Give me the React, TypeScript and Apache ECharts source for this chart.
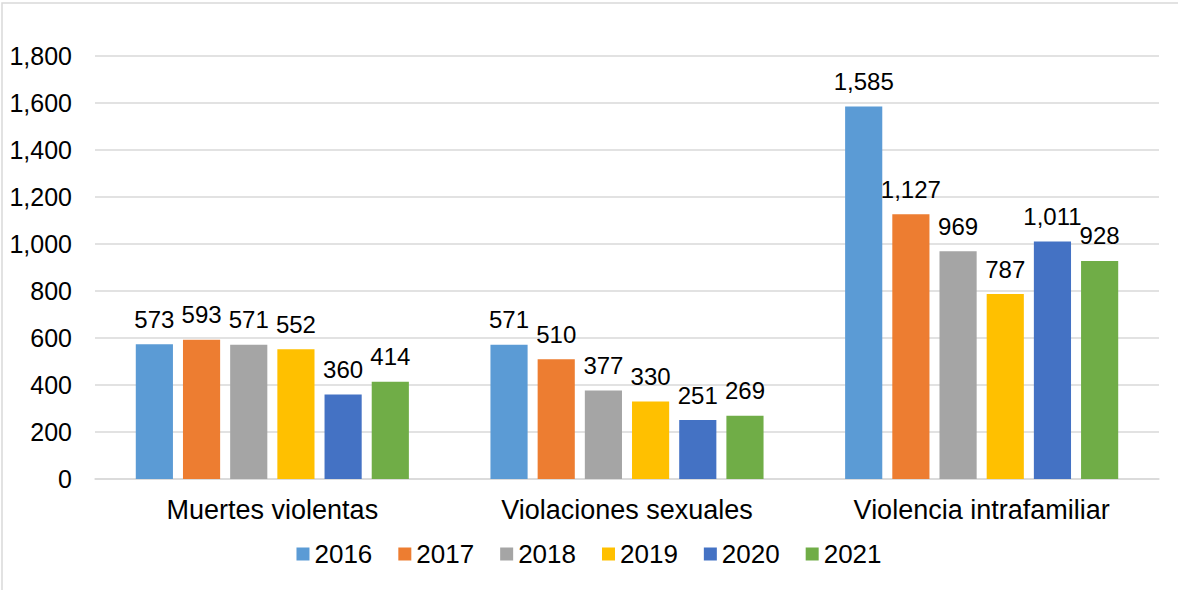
import React, { useEffect, useRef } from "react";
import * as echarts from "echarts";

const categories = ["Muertes violentas", "Violaciones sexuales", "Violencia intrafamiliar"];
const years = ["2016", "2017", "2018", "2019", "2020", "2021"];
const v2016 = [573, 571, 1585];
const v2017 = [593, 510, 1127];
const v2018 = [571, 377, 969];
const v2019 = [552, 330, 787];
const v2020 = [360, 251, 1011];
const v2021 = [414, 269, 928];
const colors = ["#5B9BD5", "#ED7D31", "#A5A5A5", "#FFC000", "#4472C4", "#70AD47"];

const fmt = (n: number) => n.toLocaleString("en-US");
const FONT = "Liberation Sans, Arial, sans-serif";

export default function App() {
  const ref = useRef<HTMLDivElement>(null);
  useEffect(() => {
    if (!ref.current) return;
    const chart = echarts.init(ref.current, undefined, { renderer: "svg" });
    const all = [v2016, v2017, v2018, v2019, v2020, v2021];
    chart.setOption({
      animation: false,
      backgroundColor: "#fff",
      graphic: [
        {
          type: "rect",
          shape: { x: 2, y: 3, width: 1190, height: 600 },
          style: { fill: "none", stroke: "#D9D9D9", lineWidth: 1.5 },
          silent: true,
        },
      ],
      grid: { left: 95, right: 19, top: 56, bottom: 111 },
      legend: {
        top: 536,
        left: "center",
        itemWidth: 13,
        itemHeight: 13,
        itemGap: 26,
        icon: "rect",
        textStyle: { fontFamily: FONT, fontSize: 26, color: "#000" },
        data: years,
      },
      xAxis: {
        type: "category",
        data: categories,
        axisLine: { lineStyle: { color: "#D9D9D9", width: 1.5 } },
        axisTick: { show: false },
        axisLabel: { fontFamily: FONT, fontSize: 27, color: "#000", margin: 17 },
      },
      yAxis: {
        type: "value",
        min: 0,
        max: 1800,
        interval: 200,
        axisLine: { show: false },
        axisTick: { show: false },
        splitLine: { lineStyle: { color: "#D9D9D9", width: 1.5 } },
        axisLabel: {
          fontFamily: FONT,
          fontSize: 25,
          color: "#000",
          margin: 23,
          formatter: (v: number) => fmt(v),
        },
      },
      series: years.map((y, i) => ({
        name: y,
        type: "bar",
        data: all[i],
        barGap: "27%",
        barCategoryGap: "23%",
        itemStyle: { color: colors[i] },
        label: {
          show: true,
          position: "top",
          distance: 13,
          fontFamily: FONT,
          fontSize: 24,
          color: "#000",
          formatter: (p: any) => fmt(p.value),
        },
      })),
    });
    return () => chart.dispose();
  }, []);
  return (
    <div
      ref={ref}
      style={{ position: "fixed", left: 0, top: 0, width: 1178, height: 590 }}
    />
  );
}
